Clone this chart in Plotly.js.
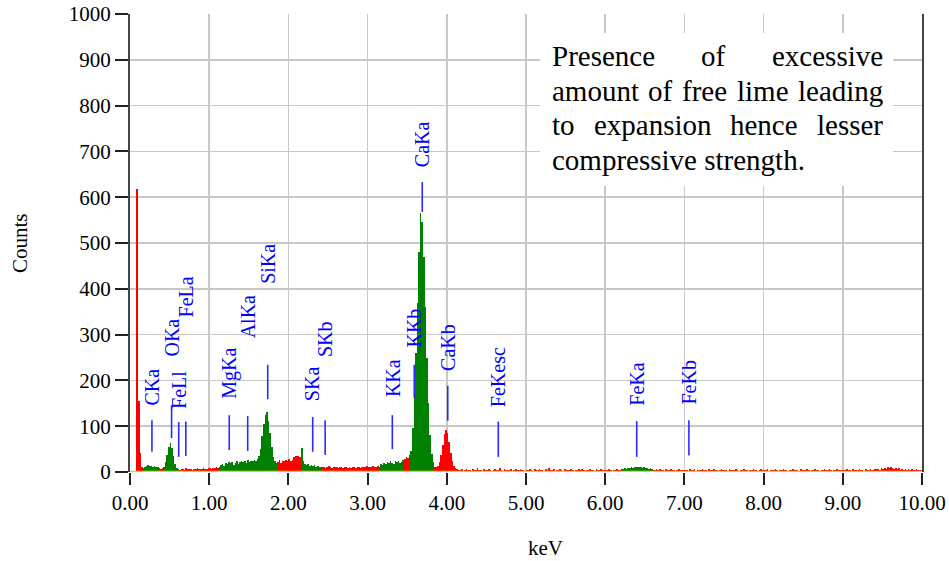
<!DOCTYPE html>
<html><head><meta charset="utf-8">
<script src="https://cdn.plot.ly/plotly-3.0.1.min.js"></script>
<style>body{margin:0;background:#fff}#chart{width:949px;height:561px}</style>
</head><body><div id="chart"></div>
<script>
// ---- spectrum data: counts per 0.02 keV channel ----
const channelWidth = 0.02;
const counts0to1 = [0,0,0,0,618,155,42,12,9,10, 13,15,14,13,12,14,11,10,9, 7,8,
  12,22,38,55,63,52,35,18,9,6, 5,6,7,5,8,6,7,6,5,7,6,8,7,6,7,8,6,7,9];
const counts1to2 = [8,6,9,8,10,9,
  12,15,18,14,20,17,22,19,21,16,20,23,18,22,25,21,24,19,26,22,25,23,27,24,28,
  35,50,78,105,125,130,112,85,55,33,24,20, 22,26,20,25,23,27,24];
const counts2to3 = [28,25,26,32,35,34,36,33, 53, 25,18,15,17,14,16,13,15,12,14,11,12,
  10,12,9,11,13,10,9,12,10,11,8,10,12,9,11,10,9,11,8,10,12,9,10,11,9,12,10,11,13];
const counts3to4 = [11,12,10,13,11,12,14,12,
  18,15,20,17,22,19,24,20,18,23,21,25,19,22,26, 28,32,30,38,
  45,95,170,260,370,480,565,545,470,360,250,150,80,40,22, 12,10,14,22,38,60,82,92];
const counts4to5 = [85,65,42,25,14,9,6,
  5,4,6,3,5,7,4,5,3,6,4,5,8,4,5,3,6,5,4,7,5,3,4,6,5,4,9,5,3,6,4,5,4,6,3,5,7,4,5,6,4,5,3];
const counts5to6 = [5,4,6,5,3,7,4,5,6,4,5,3,6,4,8,5,4,6,3,5,4,6,5,3,7,4,5,4,6,5,
  3,5,4,6,4,7,5,3,5,4,6,5,4,3,6,5,4,7,5,4];
const counts6to7 = [5,4,6,5,3,5,4,6,5,4, 6,7,8,7,9,8,10,9,11,10,12,10,11,9,10,8,9,7,8,6,
  5,4,6,5,7,4,5,3,6,5,4,6,5,4,3,5,6,4,5,4];
const counts7to8 = [4,5,3,6,5,4,6,3,5,4,5,6,4,5,3,6,4,5,7,4,5,3,4,6,5,4,5,3,6,4,
  5,4,6,5,3,4,5,6,4,5,3,5,4,6,5,4,3,5,6,4];
const counts8to9 = [5,4,6,3,5,4,5,6,4,3,5,4,6,5,4,3,5,4,6,5,4,5,3,6,4,5,4,6,5,3,
  4,5,6,4,5,3,5,4,6,5,4,6,5,3,5,4,6,5,4,5];
const counts9to10 = [5,4,6,5,4,3,6,5,4,5,6,4,5,3,6,5,4,6,5,4,6,
  6,7,5,8,6,9,7,10,8,11,9,7,9,6,8,5,7,5, 6,5,7,5,6,4,5,6,5,4,5];

// regions of interest (green), keV
const roiStart = [0.18, 0.42, 1.12, 2.16, 3.16, 3.54, 6.20];
const roiEnd   = [0.38, 0.62, 1.86, 2.42, 3.46, 3.84, 6.60];

// element line markers
const lineNames    = ["CKa","OKa","FeLl","FeLa","MgKa","AlKa","SiKa","SKa","SKb","KKa","KKb","CaKa","CaKb","FeKesc","FeKa","FeKb"];
const lineEnergies = [0.277,0.525,0.615,0.705,1.253,1.486,1.739,2.307,2.464,3.312,3.589,3.690,4.012,4.650,6.398,7.057];
const markerTop    = [113,146,109,110,124,122,234,120,113,124,234,633,188,110,111,113];
const markerBottom = [44,74,33,35,48,46,159,44,37,50,162,568,112,33,33,36];
const labelBase    = [144,249,135,336,157,290,408,153,249,162,269,664,219,140,143,145];

const xTickVals = [0,1,2,3,4,5,6,7,8,9,10];
const xTickText = ["0.00","1.00","2.00","3.00","4.00","5.00","6.00","7.00","8.00","9.00","10.00"];
const yTickVals = [0,100,200,300,400,500,600,700,800,900,1000];

const noteLines = ["Presence of excessive","amount of free lime leading","to expansion hence lesser","compressive strength."];

// ---- build ----
const counts = [].concat(counts0to1,counts1to2,counts2to3,counts3to4,counts4to5,counts5to6,counts6to7,counts7to8,counts8to9,counts9to10);
const energies = counts.map((_,i)=> +(i*channelWidth + channelWidth/2).toFixed(3));
const barColors = energies.map(e=>{
  for(let k=0;k<roiStart.length;k++){ if(e>roiStart[k] && e<roiEnd[k]) return '#008000'; }
  return '#ff0000';
});

const L=130, R=27, T=14, B=89, W=949, H=561;
const PW=W-L-R, PH=H-T-B;
const px2x = px => (px-L)/PW;
const py2y = py => (T+PH-py)/PH;

const serif = 'Liberation Serif, Times New Roman, serif';
const annotations = [];
const shapes = [];

lineNames.forEach((n,i)=>{
  shapes.push({type:'line', xref:'x', yref:'y', x0:lineEnergies[i], x1:lineEnergies[i],
    y0:markerBottom[i], y1:markerTop[i], line:{color:'#2a2aff', width:1.6}});
  annotations.push({text:n, x:lineEnergies[i], y:labelBase[i], xref:'x', yref:'y',
    textangle:-90, xanchor:'center', yanchor:'bottom', showarrow:false, borderpad:0,
    font:{family:serif, size:20, color:'#0000ff'}});
});

// note box
shapes.push({type:'rect', xref:'paper', yref:'paper', x0:px2x(540), x1:px2x(893), y0:py2y(186), y1:py2y(33),
  fillcolor:'#ffffff', line:{width:0}, layer:'above'});
const noteFont = 29, noteLeft = 551, noteRight = 882, noteTop = 56, noteGap = 34.7;
const ctx = document.createElement('canvas').getContext('2d');
ctx.font = noteFont + 'px "Liberation Serif"';
noteLines.forEach((line,li)=>{
  const yy = py2y(noteTop + li*noteGap);
  const words = line.split(' ');
  const base = {xref:'paper', yref:'paper', y:yy, yanchor:'middle', xanchor:'left', showarrow:false,
    borderpad:0, font:{family:serif, size:noteFont, color:'#000'}};
  if(li < noteLines.length-1 && words.length>1){
    const widths = words.map(w=>ctx.measureText(w).width);
    const total = widths.reduce((a,b)=>a+b,0);
    const gap = (noteRight-noteLeft-total)/(words.length-1);
    let cx = noteLeft;
    words.forEach((w,k)=>{ annotations.push(Object.assign({}, base, {text:w, x:px2x(cx)})); cx += widths[k]+gap; });
  } else {
    annotations.push(Object.assign({}, base, {text:line, x:px2x(noteLeft)}));
  }
});

// axis titles
annotations.push({text:'Counts', xref:'paper', yref:'paper', x:px2x(20), y:py2y(243), textangle:-90,
  xanchor:'center', yanchor:'middle', showarrow:false, font:{family:serif, size:21, color:'#000'}});
annotations.push({text:'keV', xref:'paper', yref:'paper', x:px2x(545), y:py2y(548),
  xanchor:'center', yanchor:'middle', showarrow:false, font:{family:serif, size:21, color:'#000'}});

const traces = [
  {type:'bar', x:energies, y:counts, width:channelWidth, marker:{color:barColors, line:{width:0}}, hoverinfo:'skip'},
  {type:'scatter', mode:'lines', x:[0,10], y:[0,0], line:{color:'#e6d800', width:2.5}, cliponaxis:false, hoverinfo:'skip'}
];

const layout = {
  width:W, height:H, margin:{l:L, r:R, t:T, b:B}, showlegend:false, bargap:0,
  paper_bgcolor:'#fff', plot_bgcolor:'#fff',
  font:{family:serif, size:21, color:'#000'},
  xaxis:{range:[0,10], tickvals:xTickVals, ticktext:xTickText, showgrid:true, gridcolor:'#c8c8c8', gridwidth:1.5,
    ticks:'outside', ticklen:12, tickwidth:2, tickcolor:'#222', showline:false, zeroline:false,
    tickfont:{family:serif, size:21, color:'#000'}},
  yaxis:{range:[0,1000], tickvals:yTickVals, showgrid:true, gridcolor:'#c8c8c8', gridwidth:1.5,
    ticks:'outside', ticklen:13, tickwidth:2, tickcolor:'#222', showline:true, mirror:true, linecolor:'#444', linewidth:2,
    zeroline:false, tickfont:{family:serif, size:21, color:'#000'}},
  shapes:shapes, annotations:annotations
};
Plotly.newPlot('chart', traces, layout, {staticPlot:true});
</script></body></html>
